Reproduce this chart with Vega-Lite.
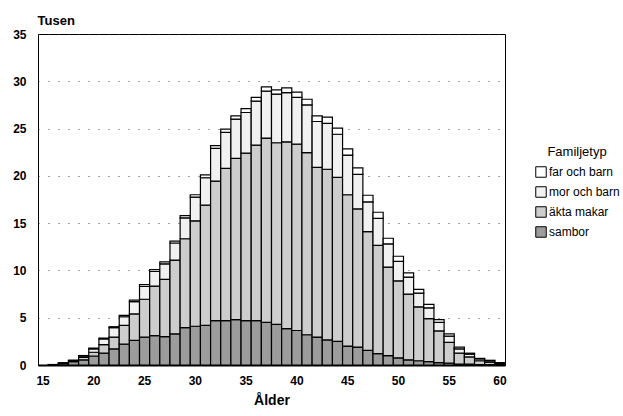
{
  "$schema": "https://vega.github.io/schema/vega-lite/v6.json",
  "autosize": "none",
  "width": 467,
  "height": 331,
  "padding": {"left": 38, "top": 34, "right": 118, "bottom": 51},
  "background": "white",
  "config": {
    "font": "Liberation Sans, Arial, sans-serif",
    "view": {"stroke": "#000", "strokeWidth": 1}
  },
  "data": {"values": [
    {"a":16,"t":"sambor","o":1,"v":0.03},{"a":16,"t":"äkta makar","o":2,"v":0.02},{"a":16,"t":"mor och barn","o":3,"v":0},{"a":16,"t":"far och barn","o":4,"v":0},
    {"a":17,"t":"sambor","o":1,"v":0.15},{"a":17,"t":"äkta makar","o":2,"v":0.05},{"a":17,"t":"mor och barn","o":3,"v":0.02},{"a":17,"t":"far och barn","o":4,"v":0},
    {"a":18,"t":"sambor","o":1,"v":0.35},{"a":18,"t":"äkta makar","o":2,"v":0.1},{"a":18,"t":"mor och barn","o":3,"v":0.05},{"a":18,"t":"far och barn","o":4,"v":0},
    {"a":19,"t":"sambor","o":1,"v":0.55},{"a":19,"t":"äkta makar","o":2,"v":0.25},{"a":19,"t":"mor och barn","o":3,"v":0.15},{"a":19,"t":"far och barn","o":4,"v":0.05},
    {"a":20,"t":"sambor","o":1,"v":0.95},{"a":20,"t":"äkta makar","o":2,"v":0.4},{"a":20,"t":"mor och barn","o":3,"v":0.35},{"a":20,"t":"far och barn","o":4,"v":0.1},
    {"a":21,"t":"sambor","o":1,"v":1.25},{"a":21,"t":"äkta makar","o":2,"v":0.9},{"a":21,"t":"mor och barn","o":3,"v":0.6},{"a":21,"t":"far och barn","o":4,"v":0.1},
    {"a":22,"t":"sambor","o":1,"v":1.7},{"a":22,"t":"äkta makar","o":2,"v":1.25},{"a":22,"t":"mor och barn","o":3,"v":1.0},{"a":22,"t":"far och barn","o":4,"v":0.1},
    {"a":23,"t":"sambor","o":1,"v":2.2},{"a":23,"t":"äkta makar","o":2,"v":2.0},{"a":23,"t":"mor och barn","o":3,"v":0.9},{"a":23,"t":"far och barn","o":4,"v":0.15},
    {"a":24,"t":"sambor","o":1,"v":2.6},{"a":24,"t":"äkta makar","o":2,"v":2.8},{"a":24,"t":"mor och barn","o":3,"v":1.3},{"a":24,"t":"far och barn","o":4,"v":0.15},
    {"a":25,"t":"sambor","o":1,"v":2.95},{"a":25,"t":"äkta makar","o":2,"v":4.0},{"a":25,"t":"mor och barn","o":3,"v":1.35},{"a":25,"t":"far och barn","o":4,"v":0.2},
    {"a":26,"t":"sambor","o":1,"v":3.1},{"a":26,"t":"äkta makar","o":2,"v":5.25},{"a":26,"t":"mor och barn","o":3,"v":1.55},{"a":26,"t":"far och barn","o":4,"v":0.2},
    {"a":27,"t":"sambor","o":1,"v":3.0},{"a":27,"t":"äkta makar","o":2,"v":6.05},{"a":27,"t":"mor och barn","o":3,"v":1.65},{"a":27,"t":"far och barn","o":4,"v":0.2},
    {"a":28,"t":"sambor","o":1,"v":3.3},{"a":28,"t":"äkta makar","o":2,"v":7.8},{"a":28,"t":"mor och barn","o":3,"v":1.8},{"a":28,"t":"far och barn","o":4,"v":0.2},
    {"a":29,"t":"sambor","o":1,"v":3.95},{"a":29,"t":"äkta makar","o":2,"v":9.4},{"a":29,"t":"mor och barn","o":3,"v":2.2},{"a":29,"t":"far och barn","o":4,"v":0.25},
    {"a":30,"t":"sambor","o":1,"v":4.1},{"a":30,"t":"äkta makar","o":2,"v":11.15},{"a":30,"t":"mor och barn","o":3,"v":2.5},{"a":30,"t":"far och barn","o":4,"v":0.25},
    {"a":31,"t":"sambor","o":1,"v":4.2},{"a":31,"t":"äkta makar","o":2,"v":12.7},{"a":31,"t":"mor och barn","o":3,"v":2.9},{"a":31,"t":"far och barn","o":4,"v":0.3},
    {"a":32,"t":"sambor","o":1,"v":4.7},{"a":32,"t":"äkta makar","o":2,"v":14.75},{"a":32,"t":"mor och barn","o":3,"v":3.45},{"a":32,"t":"far och barn","o":4,"v":0.3},
    {"a":33,"t":"sambor","o":1,"v":4.7},{"a":33,"t":"äkta makar","o":2,"v":16.1},{"a":33,"t":"mor och barn","o":3,"v":3.8},{"a":33,"t":"far och barn","o":4,"v":0.35},
    {"a":34,"t":"sambor","o":1,"v":4.8},{"a":34,"t":"äkta makar","o":2,"v":17.05},{"a":34,"t":"mor och barn","o":3,"v":4.15},{"a":34,"t":"far och barn","o":4,"v":0.35},
    {"a":35,"t":"sambor","o":1,"v":4.7},{"a":35,"t":"äkta makar","o":2,"v":17.7},{"a":35,"t":"mor och barn","o":3,"v":4.3},{"a":35,"t":"far och barn","o":4,"v":0.4},
    {"a":36,"t":"sambor","o":1,"v":4.7},{"a":36,"t":"äkta makar","o":2,"v":18.55},{"a":36,"t":"mor och barn","o":3,"v":4.65},{"a":36,"t":"far och barn","o":4,"v":0.4},
    {"a":37,"t":"sambor","o":1,"v":4.5},{"a":37,"t":"äkta makar","o":2,"v":19.5},{"a":37,"t":"mor och barn","o":3,"v":4.95},{"a":37,"t":"far och barn","o":4,"v":0.45},
    {"a":38,"t":"sambor","o":1,"v":4.3},{"a":38,"t":"äkta makar","o":2,"v":19.2},{"a":38,"t":"mor och barn","o":3,"v":5.15},{"a":38,"t":"far och barn","o":4,"v":0.45},
    {"a":39,"t":"sambor","o":1,"v":3.85},{"a":39,"t":"äkta makar","o":2,"v":19.75},{"a":39,"t":"mor och barn","o":3,"v":5.2},{"a":39,"t":"far och barn","o":4,"v":0.5},
    {"a":40,"t":"sambor","o":1,"v":3.65},{"a":40,"t":"äkta makar","o":2,"v":19.7},{"a":40,"t":"mor och barn","o":3,"v":4.95},{"a":40,"t":"far och barn","o":4,"v":0.55},
    {"a":41,"t":"sambor","o":1,"v":3.2},{"a":41,"t":"äkta makar","o":2,"v":19.25},{"a":41,"t":"mor och barn","o":3,"v":5.05},{"a":41,"t":"far och barn","o":4,"v":0.6},
    {"a":42,"t":"sambor","o":1,"v":2.95},{"a":42,"t":"äkta makar","o":2,"v":17.95},{"a":42,"t":"mor och barn","o":3,"v":4.85},{"a":42,"t":"far och barn","o":4,"v":0.6},
    {"a":43,"t":"sambor","o":1,"v":2.65},{"a":43,"t":"äkta makar","o":2,"v":18.05},{"a":43,"t":"mor och barn","o":3,"v":4.85},{"a":43,"t":"far och barn","o":4,"v":0.65},
    {"a":44,"t":"sambor","o":1,"v":2.5},{"a":44,"t":"äkta makar","o":2,"v":17.35},{"a":44,"t":"mor och barn","o":3,"v":4.55},{"a":44,"t":"far och barn","o":4,"v":0.65},
    {"a":45,"t":"sambor","o":1,"v":2.0},{"a":45,"t":"äkta makar","o":2,"v":16.0},{"a":45,"t":"mor och barn","o":3,"v":4.2},{"a":45,"t":"far och barn","o":4,"v":0.65},
    {"a":46,"t":"sambor","o":1,"v":1.9},{"a":46,"t":"äkta makar","o":2,"v":14.6},{"a":46,"t":"mor och barn","o":3,"v":3.65},{"a":46,"t":"far och barn","o":4,"v":0.7},
    {"a":47,"t":"sambor","o":1,"v":1.55},{"a":47,"t":"äkta makar","o":2,"v":12.55},{"a":47,"t":"mor och barn","o":3,"v":3.15},{"a":47,"t":"far och barn","o":4,"v":0.7},
    {"a":48,"t":"sambor","o":1,"v":1.2},{"a":48,"t":"äkta makar","o":2,"v":11.45},{"a":48,"t":"mor och barn","o":3,"v":2.85},{"a":48,"t":"far och barn","o":4,"v":0.65},
    {"a":49,"t":"sambor","o":1,"v":1.0},{"a":49,"t":"äkta makar","o":2,"v":9.35},{"a":49,"t":"mor och barn","o":3,"v":2.45},{"a":49,"t":"far och barn","o":4,"v":0.6},
    {"a":50,"t":"sambor","o":1,"v":0.75},{"a":50,"t":"äkta makar","o":2,"v":8.15},{"a":50,"t":"mor och barn","o":3,"v":2.05},{"a":50,"t":"far och barn","o":4,"v":0.55},
    {"a":51,"t":"sambor","o":1,"v":0.55},{"a":51,"t":"äkta makar","o":2,"v":6.95},{"a":51,"t":"mor och barn","o":3,"v":1.8},{"a":51,"t":"far och barn","o":4,"v":0.45},
    {"a":52,"t":"sambor","o":1,"v":0.45},{"a":52,"t":"äkta makar","o":2,"v":5.7},{"a":52,"t":"mor och barn","o":3,"v":1.45},{"a":52,"t":"far och barn","o":4,"v":0.4},
    {"a":53,"t":"sambor","o":1,"v":0.35},{"a":53,"t":"äkta makar","o":2,"v":4.55},{"a":53,"t":"mor och barn","o":3,"v":1.15},{"a":53,"t":"far och barn","o":4,"v":0.35},
    {"a":54,"t":"sambor","o":1,"v":0.25},{"a":54,"t":"äkta makar","o":2,"v":3.35},{"a":54,"t":"mor och barn","o":3,"v":0.9},{"a":54,"t":"far och barn","o":4,"v":0.3},
    {"a":55,"t":"sambor","o":1,"v":0.2},{"a":55,"t":"äkta makar","o":2,"v":2.2},{"a":55,"t":"mor och barn","o":3,"v":0.65},{"a":55,"t":"far och barn","o":4,"v":0.25},
    {"a":56,"t":"sambor","o":1,"v":0.1},{"a":56,"t":"äkta makar","o":2,"v":1.15},{"a":56,"t":"mor och barn","o":3,"v":0.45},{"a":56,"t":"far och barn","o":4,"v":0.2},
    {"a":57,"t":"sambor","o":1,"v":0.1},{"a":57,"t":"äkta makar","o":2,"v":0.75},{"a":57,"t":"mor och barn","o":3,"v":0.3},{"a":57,"t":"far och barn","o":4,"v":0.1},
    {"a":58,"t":"sambor","o":1,"v":0.05},{"a":58,"t":"äkta makar","o":2,"v":0.4},{"a":58,"t":"mor och barn","o":3,"v":0.2},{"a":58,"t":"far och barn","o":4,"v":0.05},
    {"a":59,"t":"sambor","o":1,"v":0.05},{"a":59,"t":"äkta makar","o":2,"v":0.25},{"a":59,"t":"mor och barn","o":3,"v":0.15},{"a":59,"t":"far och barn","o":4,"v":0.05},
    {"a":60,"t":"sambor","o":1,"v":0.03},{"a":60,"t":"äkta makar","o":2,"v":0.12},{"a":60,"t":"mor och barn","o":3,"v":0.08},{"a":60,"t":"far och barn","o":4,"v":0.02}
  ]},
  "mark": {"type": "bar", "stroke": "#000", "strokeWidth": 1.2},
  "encoding": {
    "x": {
      "field": "a", "type": "ordinal",
      "scale": {"domain": [15,16,17,18,19,20,21,22,23,24,25,26,27,28,29,30,31,32,33,34,35,36,37,38,39,40,41,42,43,44,45,46,47,48,49,50,51,52,53,54,55,56,57,58,59,60], "paddingInner": 0, "paddingOuter": 0},
      "axis": {
        "title": "Ålder", "values": [15,20,25,30,35,40,45,50,55,60],
        "labelAngle": 0, "ticks": false, "domain": true, "domainColor": "#000", "domainWidth": 2,
        "labelFontSize": 12, "labelFontWeight": "bold", "labelColor": "#000", "labelPadding": 10,
        "titleFontSize": 14, "titleFontWeight": "bold", "titleColor": "#000", "titlePadding": 7
      }
    },
    "y": {
      "field": "v", "type": "quantitative", "stack": "zero",
      "scale": {"domain": [0, 35], "nice": false},
      "axis": {
        "title": "Tusen", "values": [0,5,10,15,20,25,30,35],
        "ticks": false, "domain": true, "domainColor": "#000",
        "grid": true, "gridColor": "#444", "gridDash": [1, 9], "gridWidth": 1,
        "labelFontSize": 12, "labelFontWeight": "bold", "labelColor": "#000", "labelPadding": 12,
        "titleAngle": 0, "titleAlign": "left", "titleBaseline": "bottom", "titleX": -1, "titleY": -7,
        "titleFontSize": 13, "titleFontWeight": "bold", "titleColor": "#000"
      }
    },
    "color": {
      "field": "t", "type": "nominal",
      "scale": {"domain": ["far och barn", "mor och barn", "äkta makar", "sambor"], "range": ["#ffffff", "#f1f1f1", "#cdcdcd", "#9c9c9c"]},
      "legend": {
        "title": "Familjetyp", "orient": "none", "legendX": 497, "legendY": 112,
        "symbolType": "square", "symbolSize": 110, "symbolStrokeColor": "#000", "symbolStrokeWidth": 1,
        "labelFontSize": 12, "labelColor": "#000", "labelOffset": 2, "rowPadding": 4,
        "titleFontSize": 13, "titleFontWeight": "normal", "titleColor": "#000", "titleAnchor": "middle", "titlePadding": 7
      }
    },
    "order": {"field": "o", "type": "quantitative", "sort": "ascending"}
  }
}
